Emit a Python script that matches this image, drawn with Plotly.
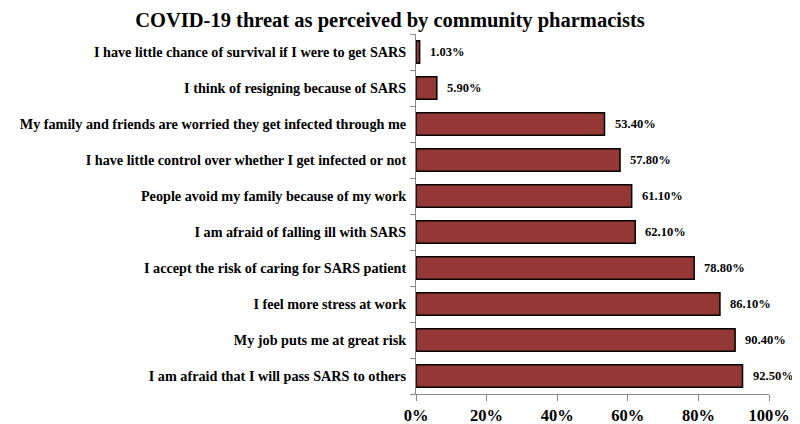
import plotly.graph_objects as go

categories = [
    "I have little chance of survival if I were to get SARS",
    "I think of resigning because of SARS",
    "My family and friends are worried they get infected through me",
    "I have little control over whether I get infected or not",
    "People avoid my family because of my work",
    "I am afraid of falling ill with SARS",
    "I accept the risk of caring for SARS patient",
    "I feel more stress at work",
    "My job puts me at great risk",
    "I am afraid that I will pass SARS to others",
]
values = [1.03, 5.90, 53.40, 57.80, 61.10, 62.10, 78.80, 86.10, 90.40, 92.50]
labels = ["1.03%", "5.90%", "53.40%", "57.80%", "61.10%", "62.10%", "78.80%", "86.10%", "90.40%", "92.50%"]
xticks = [0, 20, 40, 60, 80, 100]
xticklabels = ["0%", "20%", "40%", "60%", "80%", "100%"]

serif = "Liberation Serif, Times New Roman, serif"

fig = go.Figure()
fig.add_trace(go.Bar(
    y=categories, x=values, orientation="h",
    marker=dict(color="#953735", line=dict(color="black", width=1.5)),
    width=0.63,
    hoverinfo="skip",
))
for c, v, t in zip(categories, values, labels):
    fig.add_annotation(x=v, y=c, text="<b>%s</b>" % t, showarrow=False,
                       xanchor="left", xshift=8,
                       font=dict(family=serif, size=12.5, color="black"))

fig.update_layout(
    width=792, height=416,
    margin=dict(l=408, r=31, t=26, b=30, pad=0, autoexpand=False),
    paper_bgcolor="white", plot_bgcolor="white",
    showlegend=False,
    title=dict(text="<b>COVID-19 threat as perceived by community pharmacists</b>",
               x=(390 - 8) / 792, xanchor="center", y=0.99, yanchor="top",
               pad=dict(t=0, b=0, l=0, r=0), automargin=False,
               font=dict(family=serif, size=20.5, color="black")),
    xaxis=dict(range=[0, 100], tickvals=xticks, ticktext=["<b>%s</b>" % s for s in xticklabels],
               showgrid=False, zeroline=False, showline=True, linecolor="#888888", linewidth=1,
               ticks="outside", ticklen=6, tickcolor="#888888", ticklabelstandoff=0,
               automargin=False,
               tickfont=dict(family=serif, size=16.5, color="black")),
    yaxis=dict(categoryorder="array", categoryarray=categories, autorange="reversed",
               tickvals=categories, ticktext=["<b>%s</b>" % c for c in categories],
               showgrid=False, zeroline=False, showline=True, linecolor="#888888", linewidth=1,
               ticks="outside", ticklen=5, tickcolor="#888888", tickson="boundaries",
               ticklabelstandoff=6, automargin=False,
               tickfont=dict(family=serif, size=14.2, color="black")),
)
fig.write_html("out.html")
